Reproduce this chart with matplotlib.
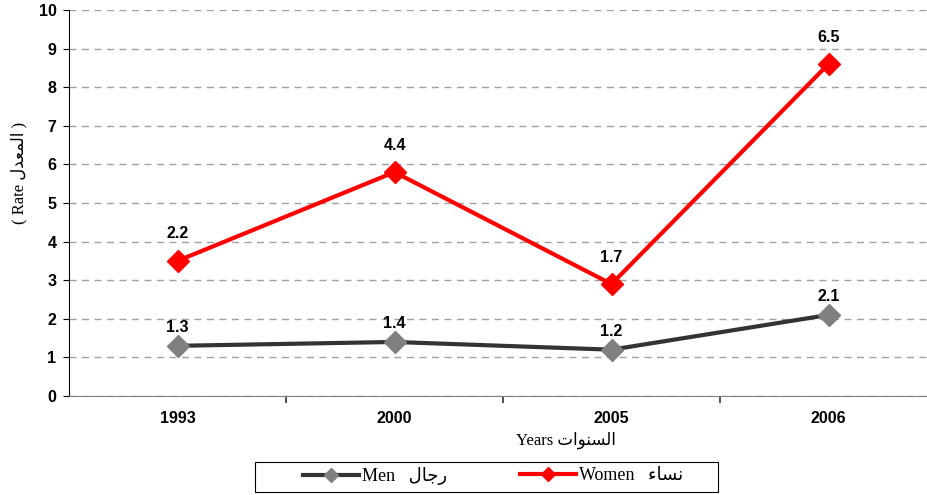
from matplotlib import pyplot as plt
from matplotlib.lines import Line2D
from matplotlib.patches import Rectangle
import numpy as np

# data
years = ['1993', '2000', '2005', '2006']
men = [1.3, 1.4, 1.2, 2.1]
men_labels = ['1.3', '1.4', '1.2', '2.1']
women = [3.5, 5.8, 2.9, 8.6]            # plotted position in the original
women_labels = ['2.2', '4.4', '1.7', '6.5']  # printed value in the original

# tiny arabic shaper (matplotlib has no shaping): isol, fin, init, med
FORMS = {
    'ا': ('\ufe8d', '\ufe8e', None, None),
    'ل': ('\ufedd', '\ufede', '\ufedf', '\ufee0'),
    'م': ('\ufee1', '\ufee2', '\ufee3', '\ufee4'),
    'ع': ('\ufec9', '\ufeca', '\ufecb', '\ufecc'),
    'د': ('\ufea9', '\ufeaa', None, None),
    'ن': ('\ufee5', '\ufee6', '\ufee7', '\ufee8'),
    'و': ('\ufeed', '\ufeee', None, None),
    'ت': ('\ufe95', '\ufe96', '\ufe97', '\ufe98'),
    'س': ('\ufeb1', '\ufeb2', '\ufeb3', '\ufeb4'),
    'ر': ('\ufead', '\ufeae', None, None),
    'ج': ('\ufe9d', '\ufe9e', '\ufe9f', '\ufea0'),
    'ء': ('\ufe80', None, None, None),
}


def shape(word):
    out = []
    for i, ch in enumerate(word):
        f = FORMS[ch]
        prev = FORMS.get(word[i - 1]) if i > 0 else None
        nxt = FORMS.get(word[i + 1]) if i + 1 < len(word) else None
        jp = prev is not None and prev[2] is not None and f[1] is not None
        jn = nxt is not None and nxt[1] is not None and f[2] is not None
        if jp and jn:
            g = f[3]
        elif jp:
            g = f[1]
        elif jn:
            g = f[2]
        else:
            g = f[0]
        out.append(g)
    return ''.join(reversed(out))


serif = ['Liberation Serif', 'DejaVu Sans']
bold = ['Liberation Sans', 'DejaVu Sans']
W, H = 927, 495

fig = plt.figure(figsize=(9.27, 4.95), dpi=100)
ax = fig.add_axes((69 / W, 99 / H, 868 / W, 386 / H))

x = np.arange(len(years))
ax.plot(x, men, color='#333333', lw=3, marker='D', ms=11,
        mfc='#808080', mec='#808080', zorder=3)
ax.plot(x, women, color='#ff0000', lw=3, marker='D', ms=11,
        mfc='#ff0000', mec='#ff0000', zorder=4)

for xi, v, t in zip(x, men, men_labels):
    ax.annotate(t, (xi, v), xytext=(0, 8), textcoords='offset points',
                ha='center', va='bottom', fontsize=11.5, fontweight='bold', family=bold)
for xi, v, t in zip(x, women, women_labels):
    ax.annotate(t, (xi, v), xytext=(0, 14), textcoords='offset points',
                ha='center', va='bottom', fontsize=11.5, fontweight='bold', family=bold)

ax.set_xlim(-0.5, 3.5)
ax.set_ylim(0, 10)
ax.set_yticks(range(11))
ax.yaxis.grid(True, ls=(0, (5, 4)), color='#a0a0a0', lw=1)
ax.set_axisbelow(True)
ax.set_xticks(x)
ax.set_xticklabels(years, fontsize=11.5, fontweight='bold', family=bold)
ax.set_xticks(x[:-1] + 0.5, minor=True)
ax.tick_params(axis='x', which='major', length=0, pad=11)
ax.tick_params(axis='x', which='minor', length=5, width=1.2, color='#333333')
ax.tick_params(axis='y', length=4, pad=5, labelsize=11.5)
for lab in ax.get_yticklabels():
    lab.set_fontweight('bold')
    lab.set_family(bold)

for s in ['top', 'right']:
    ax.spines[s].set_visible(False)
ax.spines['bottom'].set_color('#808080')
ax.spines['left'].set_color('black')

ax.set_xlabel('Years ' + shape('السنوات'), family=serif, fontsize=12)
ax.set_ylabel('( Rate ' + shape('المعدل') + ' )', family=serif, fontsize=12)
ax.xaxis.set_label_coords(497 / 868, -36 / 386)
ax.yaxis.set_label_coords(-42 / 868, (396 - 173) / 386)

# legend: frame + two entries placed like the original
fig.patches.append(Rectangle((255 / W, 1 - 492 / H), 463 / W, 30 / H,
                             transform=fig.transFigure, fill=False,
                             edgecolor='black', lw=0.8))
entries = [
    (Line2D([], [], color='#333333', lw=3, marker='D', ms=7,
            mfc='#808080', mec='#808080'), 'Men   ' + shape('رجال'), 303),
    (Line2D([], [], color='#ff0000', lw=3, marker='D', ms=7,
            mfc='#ff0000', mec='#ff0000'), 'Women   ' + shape('نساء'), 520),
]
for h, lbl, xl in entries:
    lg = fig.legend([h], [lbl], loc='center left',
                    bbox_to_anchor=(xl / W, 1 - 476 / H), frameon=False,
                    prop={'family': serif, 'size': 13}, handlelength=3.1,
                    handletextpad=0.15, borderpad=0, borderaxespad=0)

fig.savefig('out.png', dpi=100)
